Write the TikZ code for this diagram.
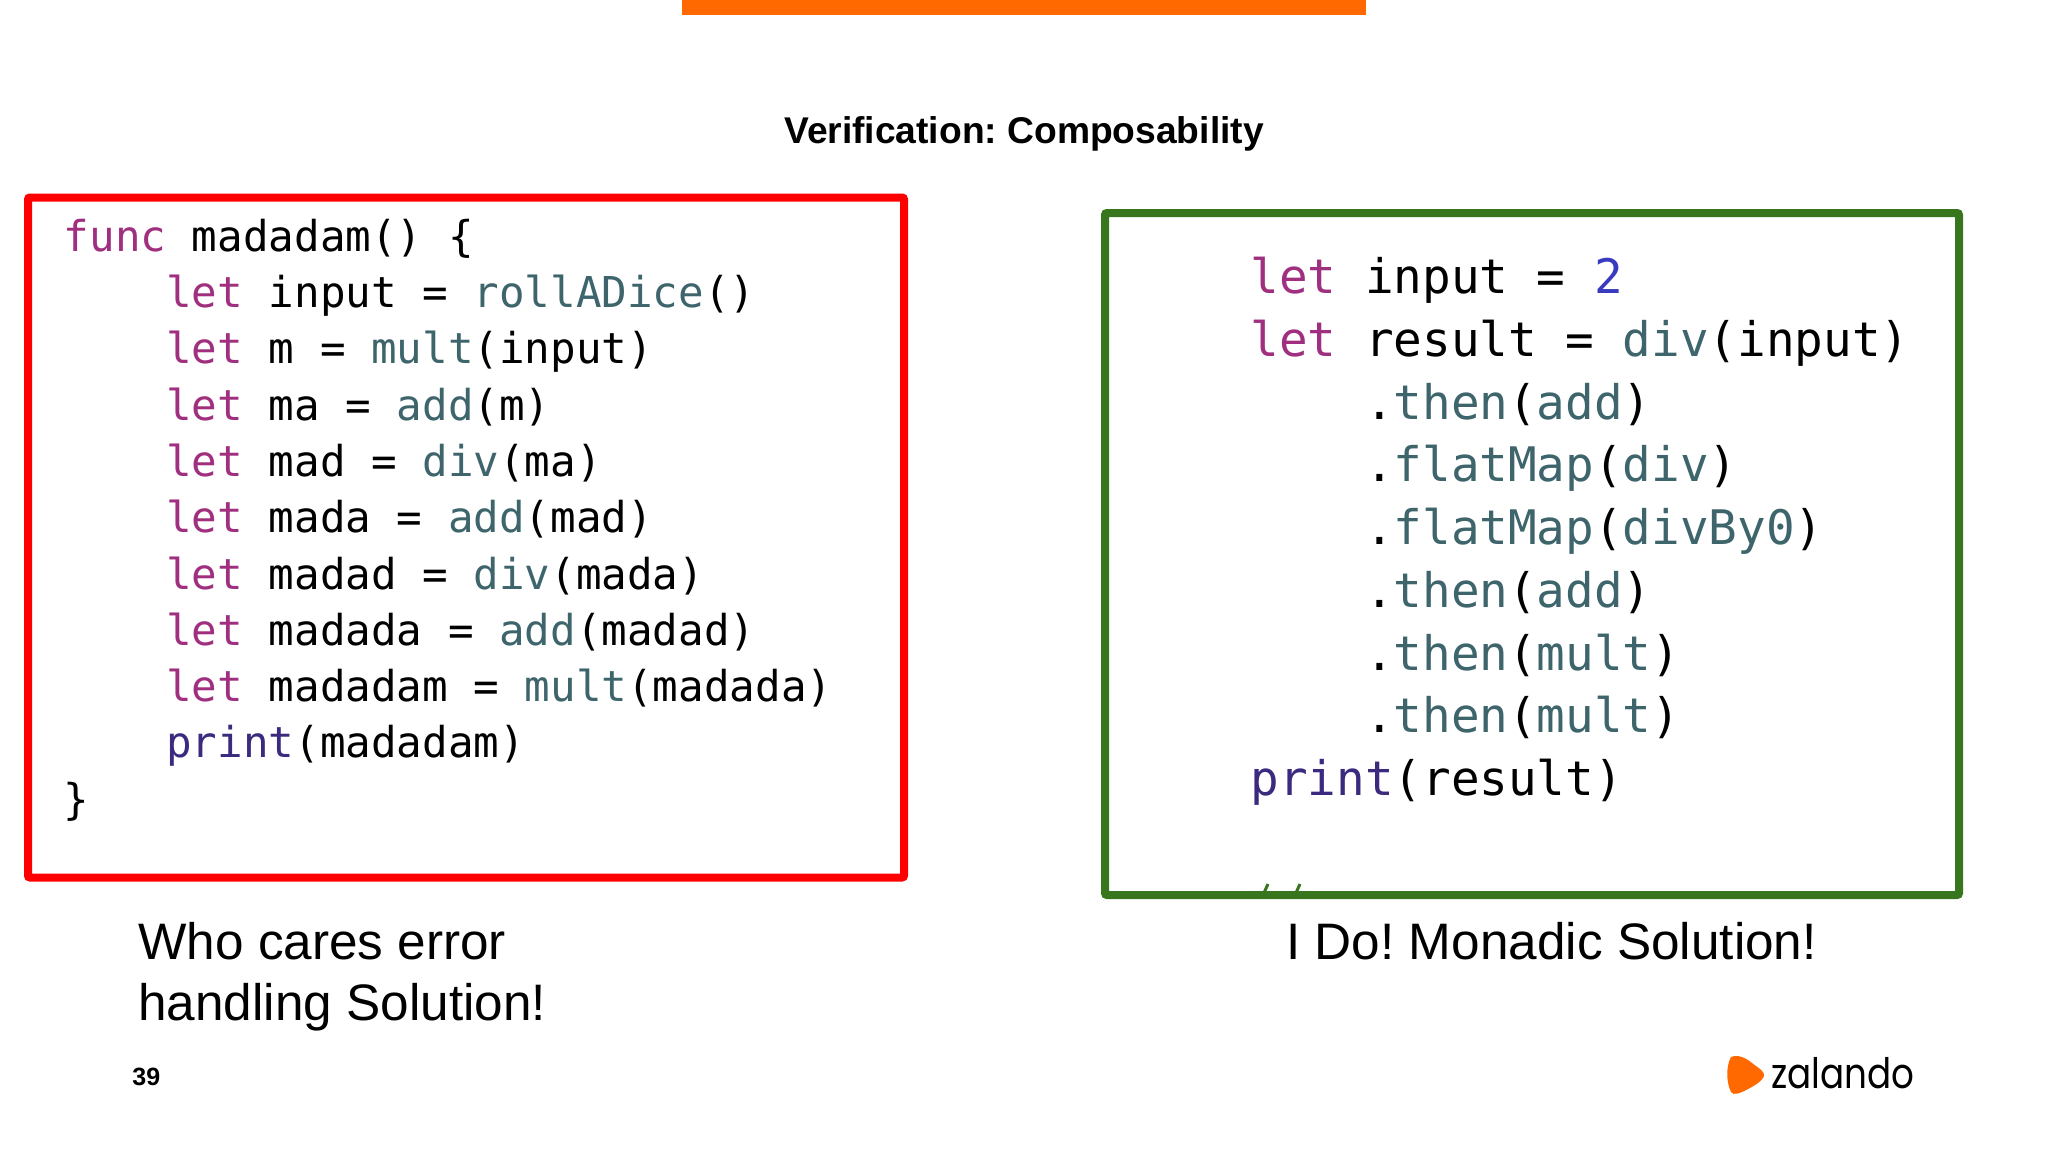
\documentclass[tikz,border=0pt]{standalone}
\usepackage{fontspec}
\usepackage{xcolor}
\setmainfont{Liberation Sans}
\setmonofont{DejaVu Sans Mono}
\newfontfamily\logofont{Poppins}
\frenchspacing
\definecolor{zalorange}{HTML}{FF6900}
\definecolor{keycolor}{HTML}{A0307F}
\definecolor{funcolor}{HTML}{3E656C}
\definecolor{printcolor}{HTML}{3C2A7E}
\definecolor{numcolor}{HTML}{3A3AC0}
\definecolor{codegreen}{HTML}{38761D}
\newcommand{\kw}[1]{\textcolor{keycolor}{#1}}
\newcommand{\fn}[1]{\textcolor{funcolor}{#1}}
\newcommand{\pr}[1]{\textcolor{printcolor}{#1}}
\tikzstyle{redbox} = [draw=red, line width=4pt, rectangle, rounded corners=1pt,
    minimum width=438pt, minimum height=340pt, inner sep=0pt]
\tikzstyle{greenbox} = [draw=codegreen, line width=4pt, rectangle, rounded corners=1pt,
    minimum width=427pt, minimum height=341pt, inner sep=0pt]
\tikzstyle{codeleft} = [inner sep=0pt, anchor=north west, align=left,
    font=\ttfamily\fontsize{21.27}{28.15}\selectfont]
\tikzstyle{coderight} = [inner sep=0pt, anchor=north west, align=left,
    font=\ttfamily\fontsize{23.8}{31.35}\selectfont]
\tikzstyle{caption} = [inner sep=0pt, anchor=north west, align=left,
    font=\fontsize{25.65}{30.7}\selectfont]

\begin{document}
\begin{tikzpicture}[x=0.5pt, y=-0.5pt]
    \useasboundingbox (0,0) rectangle (2048,1152);
    \fill[zalorange] (682,0) rectangle (1366,15);
    \node[font=\bfseries\fontsize{18.6}{23}\selectfont, inner sep=0pt] (title) at (1024,134) {Verification: Composability};
    % clipped comment under the green frame
    \draw[codegreen, line width=1.5pt] (1263,895) -- (1268,884);
    \draw[codegreen, line width=1.5pt] (1295,895) -- (1300,884);
    \node[redbox] (box1) at (466,537.5) {};
    \node[greenbox] (box2) at (1532,554) {};
    \node[codeleft] (code1) at (63.5,218.5) {%
        \kw{func} madadam() \{\\
        ~~~~\kw{let} input = \fn{rollADice}()\\
        ~~~~\kw{let} m = \fn{mult}(input)\\
        ~~~~\kw{let} ma = \fn{add}(m)\\
        ~~~~\kw{let} mad = \fn{div}(ma)\\
        ~~~~\kw{let} mada = \fn{add}(mad)\\
        ~~~~\kw{let} madad = \fn{div}(mada)\\
        ~~~~\kw{let} madada = \fn{add}(madad)\\
        ~~~~\kw{let} madadam = \fn{mult}(madada)\\
        ~~~~\pr{print}(madadam)\\
        \}};
    \node[coderight] (code2) at (1250,257) {%
        \kw{let} input = \textcolor{numcolor}{2}\\
        \kw{let} result = \fn{div}(input)\\
        ~~~~.\fn{then}(\fn{add})\\
        ~~~~.\fn{flatMap}(\fn{div})\\
        ~~~~.\fn{flatMap}(\fn{divBy0})\\
        ~~~~.\fn{then}(\fn{add})\\
        ~~~~.\fn{then}(\fn{mult})\\
        ~~~~.\fn{then}(\fn{mult})\\
        \pr{print}(result)};
    \node[caption] (text1) at (138,922) {Who cares error\\handling Solution!};
    \node[caption] (text2) at (1286,922) {I Do! Monadic Solution!};
    \node[font=\bfseries\fontsize{12.5}{15}\selectfont, inner sep=0pt, anchor=west] (pagenum) at (132,1077) {39};
    \fill[zalorange] (1731,1057) .. controls (1738,1054) and (1746,1058) .. (1752,1063)
        .. controls (1760,1069) and (1765,1072) .. (1764,1076)
        .. controls (1763,1080) and (1756,1085) .. (1748,1089)
        .. controls (1741,1093) and (1733,1096) .. (1731,1092)
        .. controls (1726,1082) and (1726,1066) .. (1731,1057) -- cycle;
    \node[font=\logofont\fontsize{21}{26}\selectfont, inner sep=0pt, anchor=west] (logo) at (1771,1073) {\scalebox{0.85}[1]{zalando}};
\end{tikzpicture}
\end{document}
